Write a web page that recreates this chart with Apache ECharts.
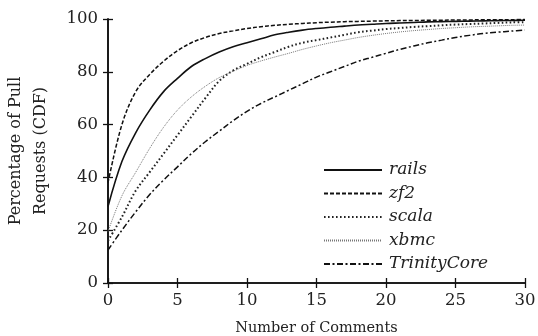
<!DOCTYPE html>
<html><head><meta charset="utf-8">
<script src="https://cdn.jsdelivr.net/npm/echarts@6/dist/echarts.min.js"></script>
<style>html,body{margin:0;padding:0;background:#fff}#c{width:538px;height:336px}</style>
</head><body><div id="c"></div>
<script>
const xValues = [0,1,2,3,4,5,6,7,8,9,10,11,12,13,14,15,16,17,18,19,20,21,22,23,24,25,26,27,28,29,30];
const rails = [29,46,57,65.5,72.5,77.5,82,85,87.5,89.5,91,92.5,94,95,95.8,96.4,96.9,97.3,97.7,98,98.3,98.5,98.7,98.9,99,99.1,99.2,99.3,99.4,99.45,99.5];
const zf2 = [38,60,72.5,79,84,88,91,93,94.5,95.5,96.4,97.1,97.6,98,98.3,98.6,98.8,99,99.1,99.2,99.3,99.4,99.45,99.5,99.55,99.6,99.65,99.7,99.72,99.75,99.8];
const scala = [16,25,35,42,49,56,63,70,76.5,80.5,83,85.5,87.5,89.5,91,92,93,94,95,95.6,96.2,96.6,97,97.3,97.6,97.9,98.1,98.3,98.5,98.7,98.8];
const xbmc = [19.5,33,42,51,59,65.5,70.5,74.5,77.8,80.2,82.4,84.1,85.6,87,88.5,89.8,91,92,93,93.8,94.5,95.1,95.6,96,96.4,96.7,97,97.2,97.4,97.6,97.7];
const trinity = [12.5,20,27,33.5,39,44,49,53.5,57.5,61.5,65,68,70.5,73,75.5,78,80,82,84,85.5,87,88.5,89.8,91,92,93,93.8,94.5,95,95.4,95.8];
const seriesNames = ['rails','zf2','scala','xbmc','TrinityCore'];
const xTicks = [0,5,10,15,20,25,30];
const yTicks = [0,20,40,60,80,100];

const font = 'DejaVu Serif';
const pair = a => a.map((v,i)=>[xValues[i], v]);
const styles = [
  {color:'#111', width:1.6, type:'solid'},
  {color:'#111', width:1.5, type:[4,2]},
  {color:'#222', width:2, type:[1.6,2.4]},
  {color:'#777', width:1, type:[1,1]},
  {color:'#111', width:1.5, type:[6,2.5,2,2.5]}
];
const datas = [rails, zf2, scala, xbmc, trinity];
const series = datas.map((d,i)=>({
  name: seriesNames[i], type:'line', data: pair(d), showSymbol:false, symbol:'none',
  smooth:0.35, xAxisIndex:0, yAxisIndex:0,
  lineStyle:{color:styles[i].color, width:styles[i].width, type:styles[i].type},
  itemStyle:{color:styles[i].color}
}));
const axisCommon = {
  min:0, axisLine:{show:true, lineStyle:{color:'#111', width:1.6}},
  axisTick:{show:true, inside:true, length:5, lineStyle:{color:'#111', width:1.3}},
  splitLine:{show:false}
};
const chart = echarts.init(document.getElementById('c'), null, {renderer:'canvas'});
chart.setOption({
  animation:false,
  backgroundColor:'#fff',
  grid:{left:108, right:13, top:19, bottom:53, containLabel:false, outerBoundsMode:'none'},
  xAxis:[
    Object.assign({}, axisCommon, {type:'value', position:'bottom', max:30, interval:5,
      name:'Number of Comments', nameLocation:'middle', nameGap:38,
      nameTextStyle:{fontFamily:font, fontSize:14.5, color:'#222'},
      axisLabel:{fontFamily:font, fontSize:16.5, color:'#222', margin:9,
        formatter:v=> xTicks.includes(v)? String(v):''}}),
    Object.assign({}, axisCommon, {type:'value', position:'top', max:30, interval:5, axisLabel:{show:false}})
  ],
  yAxis:[
    Object.assign({}, axisCommon, {type:'value', position:'left', max:100, interval:20,
      name:'Percentage of Pull\nRequests (CDF)', nameLocation:'middle', nameGap:55,
      nameTextStyle:{fontFamily:font, fontSize:16, color:'#222', lineHeight:25},
      axisLabel:{fontFamily:font, fontSize:16.5, color:'#222', margin:10,
        formatter:v=> yTicks.includes(v)? String(v):''}}),
    Object.assign({}, axisCommon, {type:'value', position:'right', max:100, interval:20, axisLabel:{show:false}})
  ],
  legend:{
    orient:'vertical', left:323, top:161.5, padding:0, itemWidth:58, itemHeight:14, itemGap:6.5,
    textStyle:{fontFamily:font, fontStyle:'italic', fontSize:17, color:'#222', lineHeight:17, padding:[0,0,0,2]},
    itemStyle:{opacity:0},
    data: seriesNames
  },
  series: series
});
</script></body></html>
